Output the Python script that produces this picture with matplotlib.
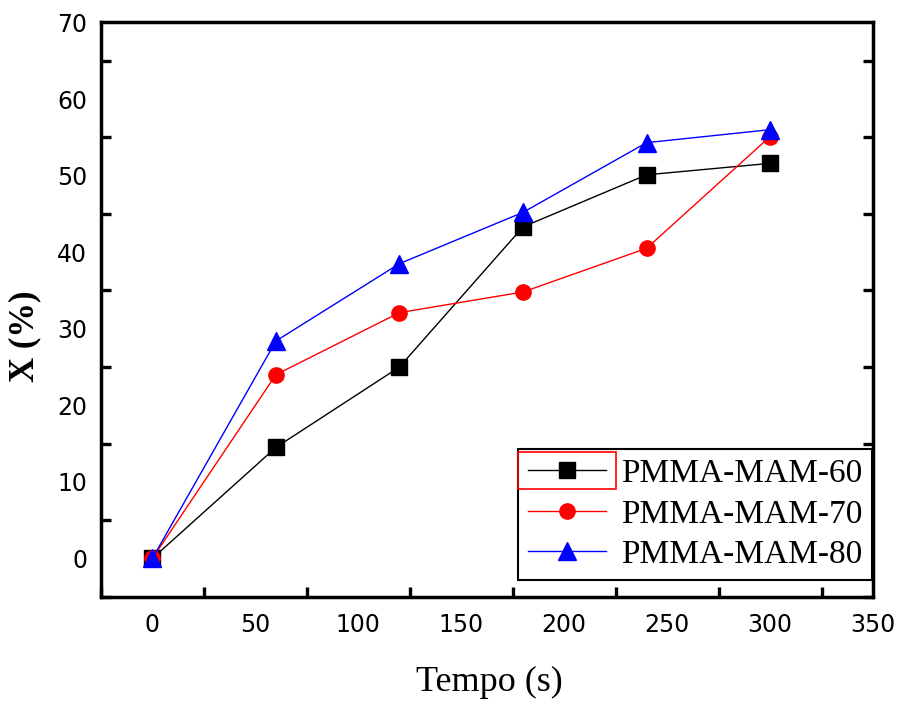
import numpy as np
import matplotlib.pyplot as plt
from matplotlib.ticker import MultipleLocator
from matplotlib.patches import Rectangle

tempo = [0, 60, 120, 180, 240, 300]
x_60 = [0, 14.5, 25.0, 43.3, 50.1, 51.6]
x_70 = [0, 24.0, 32.1, 34.8, 40.5, 55.1]
x_80 = [0, 28.4, 38.5, 45.2, 54.3, 56.0]
labels = ['PMMA-MAM-60', 'PMMA-MAM-70', 'PMMA-MAM-80']

fig = plt.figure(figsize=(9.01, 7.02), dpi=100)
ax = fig.add_axes([0.112, 0.150, 0.857, 0.818])

ax.plot(tempo, x_60, color='black', lw=1.0, marker='s', ms=11.5, label=labels[0])
ax.plot(tempo, x_70, color='red', lw=1.0, marker='o', ms=11, label=labels[1])
ax.plot(tempo, x_80, color='blue', lw=1.0, marker='^', ms=13, label=labels[2])

ax.set_xlim(-25, 350)
ax.set_ylim(-5, 70)
ax.xaxis.set_major_locator(MultipleLocator(50))
ax.xaxis.set_minor_locator(MultipleLocator(25))
ax.yaxis.set_major_locator(MultipleLocator(10))
ax.yaxis.set_minor_locator(MultipleLocator(5))
ax.tick_params(which='major', length=0, labelsize=17)
ax.tick_params(axis='x', which='major', pad=12)
ax.tick_params(axis='y', which='major', pad=10)
ax.tick_params(which='minor', direction='in', length=7, width=2.4,
               right=True, top=False)
for s in ax.spines.values():
    s.set_linewidth(2.5)

ax.set_xlabel('Tempo (s)', family='Liberation Serif', fontsize=26)
ax.set_ylabel('X (%)', family='Liberation Serif', fontsize=25, fontweight='bold')
ax.xaxis.set_label_coords(0.503, -0.12)
ax.yaxis.set_label_coords(-0.077, 0.453)

leg = ax.legend(loc='lower right', bbox_to_anchor=(0.999, 0.029),
                prop={'family': 'Liberation Serif', 'size': 24},
                handlelength=2.35, labelspacing=0.3, handletextpad=0.45,
                borderpad=0.3, borderaxespad=0, fancybox=False,
                edgecolor='black', framealpha=1)
leg.get_frame().set_linewidth(1.5)

# red selection box around first legend handle
fig.canvas.draw()
bb = leg.legend_handles[0].get_window_extent(fig.canvas.get_renderer())
bb = bb.transformed(fig.transFigure.inverted())
fig.patches.append(Rectangle((bb.x0 - 0.002, bb.y0 + bb.height / 2 - 0.027),
                             bb.width + 0.004, 0.053,
                             transform=fig.transFigure, fill=False,
                             edgecolor='red', lw=1.2, zorder=10))

fig.savefig('out.png', dpi=100)
